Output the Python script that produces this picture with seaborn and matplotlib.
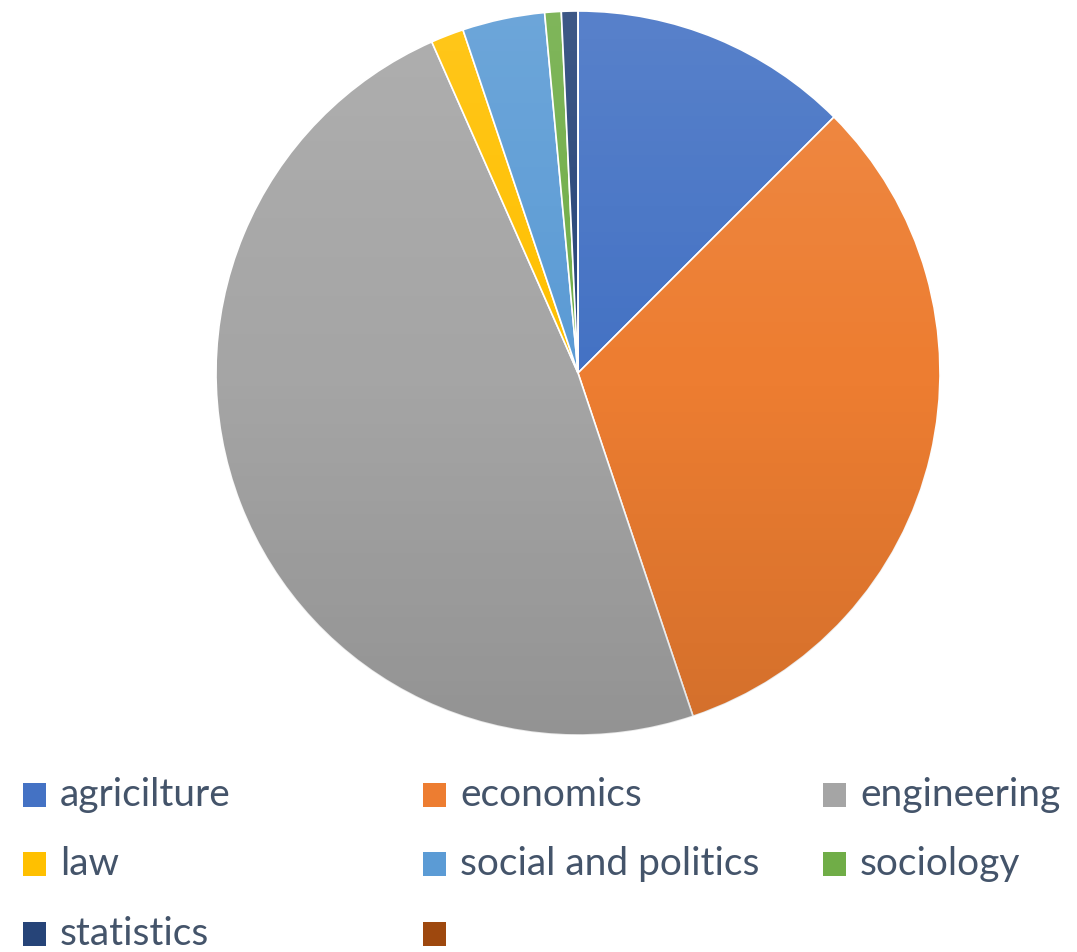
import matplotlib
matplotlib.use("Agg")
import matplotlib.pyplot as plt
from matplotlib.patches import Rectangle, Circle
import numpy as np
import seaborn as sns

# Data (counts, share of 136)
labels = ["agricilture", "economics", "engineering", "law",
          "social and politics", "sociology", "statistics", ""]
counts = [17, 44, 66, 2, 5, 1, 1, 0]
colors = ["#4472C4", "#ED7D31", "#A5A5A5", "#FFC000",
          "#5B9BD5", "#70AD47", "#264478", "#9E480E"]

sns.set_theme(style="white")
plt.rcParams['font.family'] = ['Lato', 'DejaVu Sans']

W, H = 1077, 952
fig = plt.figure(figsize=(W / 100, H / 100), dpi=100)

# Pie axes: centre (578, 373), radius 362 px
cx, cy, r = 578, 373, 362
ax = fig.add_axes([(cx - r) / W, (H - cy - r) / H, 2 * r / W, 2 * r / H])
ax.pie(counts, colors=colors, startangle=90, counterclock=False,
       radius=1.0, wedgeprops=dict(edgecolor="white", linewidth=1.2))

# subtle vertical shading, lighter at the top, darker at the bottom
t = np.linspace(0, 1, 256)[:, None]
shade = np.zeros((256, 2, 4))
shade[..., :3] = np.where(t < 0.5, 1.0, 0.0)[..., None]
shade[..., 3] = np.where(t < 0.5, (0.5 - t) * 0.22, (t - 0.5) * 0.22)
img = ax.imshow(shade, extent=[-1, 1, -1, 1], origin="upper",
                aspect="auto", zorder=3)
img.set_clip_path(Circle((0, 0), 1.0, transform=ax.transData))

ax.set_xlim(-1.0, 1.0)
ax.set_ylim(-1.0, 1.0)
ax.set_aspect("equal")
ax.axis("off")

# Legend laid out as 3 columns
col_x = [23, 423, 823]
row_y = [795, 864, 934]
text_color = "#44546A"
for i, (lab, col) in enumerate(zip(labels, colors)):
    x = col_x[i % 3]
    y = row_y[i // 3]
    fig.patches.append(Rectangle((x / W, (H - y - 12) / H), 23 / W, 24 / H,
                                 transform=fig.transFigure, facecolor=col,
                                 edgecolor="none"))
    fig.text((x + 37) / W, (H - y) / H, lab, fontsize=28, color=text_color,
             va="center", ha="left")

fig.savefig("out.png", dpi=100)
